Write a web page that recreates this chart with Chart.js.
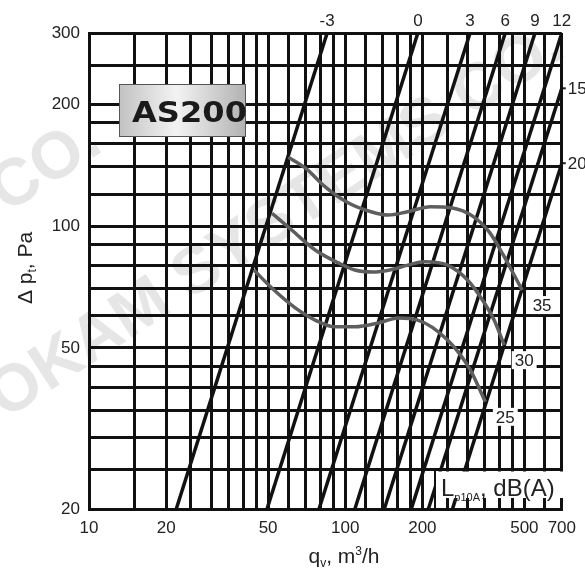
<!DOCTYPE html>
<html>
<head>
<meta charset="utf-8">
<script src="https://cdn.jsdelivr.net/npm/chart.js@4.4.0/dist/chart.umd.min.js"></script>
<style>
  html, body { margin: 0; padding: 0; background: #fff; }
  #wrap { width: 585px; height: 571px; }
</style>
</head>
<body>
<div id="wrap"><canvas id="fanChart" width="585" height="571"></canvas></div>
<script>
// grid lines of the log-log paper
const xGrid = [10, 15, 20, 25, 30, 35, 40, 45, 50, 60, 70, 80, 90, 100, 120, 140, 160, 180, 200, 250, 300, 350, 400, 450, 500, 600, 700];
const yGrid = [20, 25, 30, 35, 40, 45, 50, 60, 70, 80, 90, 100, 120, 140, 160, 180, 200, 250, 300];
const xLabeled = [10, 20, 50, 100, 200, 500, 700];
const yLabeled = [20, 50, 100, 200, 300];

// system lines (dB correction): flow at 20 Pa and where the line leaves the chart
const sysLabels = ['-3', '0', '3', '6', '9', '12', '15', '20'];
const sysStartQ = [21.9, 49.5, 79, 109, 142, 181, 211, 262];
const sysEndQ = [85, 192, 307, 421, 550, 700, 700, 700];
const sysEndP = [300, 300, 300, 300, 300, 300, 219, 143];

// fan curves, Lp10A dB(A)
const curve35Q = [60, 70, 83.5, 103, 126, 147, 175, 215, 262, 313, 365, 413, 456, 490];
const curve35P = [148, 139, 125, 114, 108.5, 106.5, 108.5, 111.7, 110.9, 106, 96.6, 85, 75.7, 69.5];
const curve30Q = [51.8, 61.8, 76.3, 94, 109, 128, 149, 175.5, 203.6, 250.7, 300, 343, 381, 417];
const curve30P = [107.6, 97.8, 87.3, 81.1, 77.9, 77.0, 77.9, 80.1, 81.7, 80.1, 73.6, 65.7, 58.6, 50.8];
const curve25Q = [44, 51.7, 63.8, 76.3, 91.2, 109, 134.2, 160.5, 191.9, 250.7, 307.8, 352];
const curve25P = [77.9, 70.3, 62.8, 58.6, 56.4, 56.4, 57.6, 59.3, 58.6, 52.3, 44.1, 36.8];

const FONT = '"Liberation Sans", Arial, sans-serif';

const datasets = [];
sysLabels.forEach((lab, i) => {
  datasets.push({
    label: 'system ' + lab,
    data: [{ x: sysStartQ[i], y: 20 }, { x: sysEndQ[i], y: sysEndP[i] }],
    borderColor: '#111',
    borderWidth: 3.5,
    pointRadius: 0,
    tension: 0,
    order: 2
  });
});
const curves = [[curve35Q, curve35P, '35'], [curve30Q, curve30P, '30'], [curve25Q, curve25P, '25']];
curves.forEach(([q, p, lab]) => {
  datasets.push({
    label: lab + ' dB(A)',
    data: q.map((v, i) => ({ x: v, y: p[i] })),
    borderColor: '#5e5e5e',
    borderWidth: 3.5,
    pointRadius: 0,
    cubicInterpolationMode: 'monotone',
    order: 1
  });
});

const overlay = {
  id: 'overlay',
  beforeDraw(chart) {
    const ctx = chart.ctx;
    ctx.save();
    ctx.fillStyle = '#fff';
    ctx.fillRect(0, 0, chart.width, chart.height);
    // faint watermark
    ctx.fillStyle = '#e6e6e6';
    ctx.font = 'bold 66px ' + FONT;
    ctx.translate(5, 420);
    ctx.rotate(-33 * Math.PI / 180);
    ctx.fillText('OKAM SYSTEMS CO.', 0, 0);
    ctx.restore();
    ctx.save();
    ctx.fillStyle = '#e6e6e6';
    ctx.font = 'bold 66px ' + FONT;
    ctx.translate(105, 150);
    ctx.rotate(-33 * Math.PI / 180);
    ctx.textAlign = 'right';
    ctx.fillText('OKAM SYSTEMS CO.', 0, 0);
    ctx.restore();
  },
  afterDraw(chart) {
    const ctx = chart.ctx, xs = chart.scales.x, ys = chart.scales.y;
    ctx.save();
    ctx.font = '17px ' + FONT;
    ctx.textBaseline = 'middle';

    // system line labels
    sysLabels.forEach((lab, i) => {
      const px = xs.getPixelForValue(sysEndQ[i]);
      const py = ys.getPixelForValue(sysEndP[i]);
      ctx.fillStyle = '#222';
      if (sysEndP[i] >= 300) {
        ctx.textAlign = 'center';
        ctx.fillText(lab, px, 21);
      } else {
        ctx.fillRect(px + 1, py - 1, 3, 2);
        ctx.textAlign = 'left';
        ctx.fillText(lab, px + 6, py + 1);
      }
    });

    // fan curve labels on white
    curves.forEach(([q, p, lab]) => {
      const ex = xs.getPixelForValue(q[q.length - 1]);
      const ey = ys.getPixelForValue(p[p.length - 1]);
      const cx = ex + 20, cy = ey + 15;
      const w = ctx.measureText(lab).width + 6;
      ctx.fillStyle = '#fff';
      ctx.fillRect(cx - w / 2, cy - 9, w, 18);
      ctx.fillStyle = '#222';
      ctx.textAlign = 'center';
      ctx.fillText(lab, cx, cy + 1);
    });

    // AS200 badge
    const bx = 119, by = 84, bw = 127, bh = 53;
    const g = ctx.createLinearGradient(bx, 0, bx + bw, 0);
    g.addColorStop(0, '#c2c2c2');
    g.addColorStop(0.45, '#f3f3f3');
    g.addColorStop(1, '#b2b2b2');
    ctx.fillStyle = g;
    ctx.fillRect(bx, by, bw, bh);
    ctx.strokeStyle = '#555';
    ctx.lineWidth = 1;
    ctx.strokeRect(bx + 0.5, by + 0.5, bw - 1, bh - 1);
    ctx.fillStyle = '#1a1a1a';
    ctx.font = 'bold 28px "DejaVu Sans", sans-serif';
    ctx.textAlign = 'left';
    ctx.textBaseline = 'alphabetic';
    const tw = ctx.measureText('AS200').width;
    ctx.save();
    ctx.translate(132, 122);
    ctx.scale(115 / tw, 1);
    ctx.fillText('AS200', 0, 0);
    ctx.restore();

    // Lp10A box
    ctx.fillStyle = '#fff';
    ctx.fillRect(436, 471.5, 128, 26.5);
    ctx.fillStyle = '#111';
    ctx.fillRect(434, 470, 2, 39);
    ctx.fillStyle = '#222';
    let tx = 441;
    ctx.font = '24px ' + FONT;
    ctx.fillText('L', tx, 496);
    tx += ctx.measureText('L').width;
    ctx.font = '11px ' + FONT;
    ctx.fillText('p10A', tx, 501);
    tx += ctx.measureText('p10A').width;
    ctx.font = '24px ' + FONT;
    ctx.fillText(', dB(A)', tx, 496);

    // axis titles with sub/superscripts
    const drawRich = (parts, x, y, rot) => {
      ctx.save();
      ctx.translate(x, y);
      ctx.rotate(rot);
      let total = 0;
      parts.forEach(pt => { ctx.font = pt[1] + 'px ' + FONT; total += ctx.measureText(pt[0]).width; });
      let cx = -total / 2;
      parts.forEach(pt => {
        ctx.font = pt[1] + 'px ' + FONT;
        ctx.fillText(pt[0], cx, pt[2]);
        cx += ctx.measureText(pt[0]).width;
      });
      ctx.restore();
    };
    ctx.fillStyle = '#222';
    ctx.textAlign = 'left';
    drawRich([['\u0394 p', 21, 0], ['t', 12, 4], [', Pa', 21, 0]], 32, 268, -Math.PI / 2);
    drawRich([['q', 21, 0], ['v', 12, 4], [', m', 21, 0], ['3', 12, -8], ['/h', 21, 0]], 344, 563, 0);
    ctx.restore();
  }
};

new Chart(document.getElementById('fanChart'), {
  type: 'line',
  data: { datasets },
  options: {
    responsive: false,
    animation: false,
    layout: { padding: { left: 0, top: 33, right: 20, bottom: 0 } },
    plugins: { legend: { display: false }, tooltip: { enabled: false } },
    scales: {
      x: {
        type: 'logarithmic',
        min: 10,
        max: 700,
        z: 1,
        afterBuildTicks: s => { s.ticks = xGrid.map(v => ({ value: v })); },
        afterFit: s => { s.height = 62; },
        ticks: {
          autoSkip: false,
          maxRotation: 0,
          padding: 9,
          color: '#222',
          font: { family: FONT, size: 17 },
          callback: v => xLabeled.includes(v) ? String(v) : ''
        },
        grid: { color: '#111', lineWidth: 3, drawTicks: false },
        border: { color: '#111', width: 3 }
      },
      y: {
        type: 'logarithmic',
        min: 20,
        max: 300,
        z: 1,
        afterBuildTicks: s => { s.ticks = yGrid.map(v => ({ value: v })); },
        afterFit: s => { s.width = 89; },
        ticks: {
          autoSkip: false,
          padding: 9,
          color: '#222',
          font: { family: FONT, size: 17 },
          callback: v => yLabeled.includes(v) ? String(v) : ''
        },
        grid: { color: '#111', lineWidth: 3, drawTicks: false },
        border: { color: '#111', width: 3 }
      }
    }
  },
  plugins: [overlay]
});
</script>
</body>
</html>
